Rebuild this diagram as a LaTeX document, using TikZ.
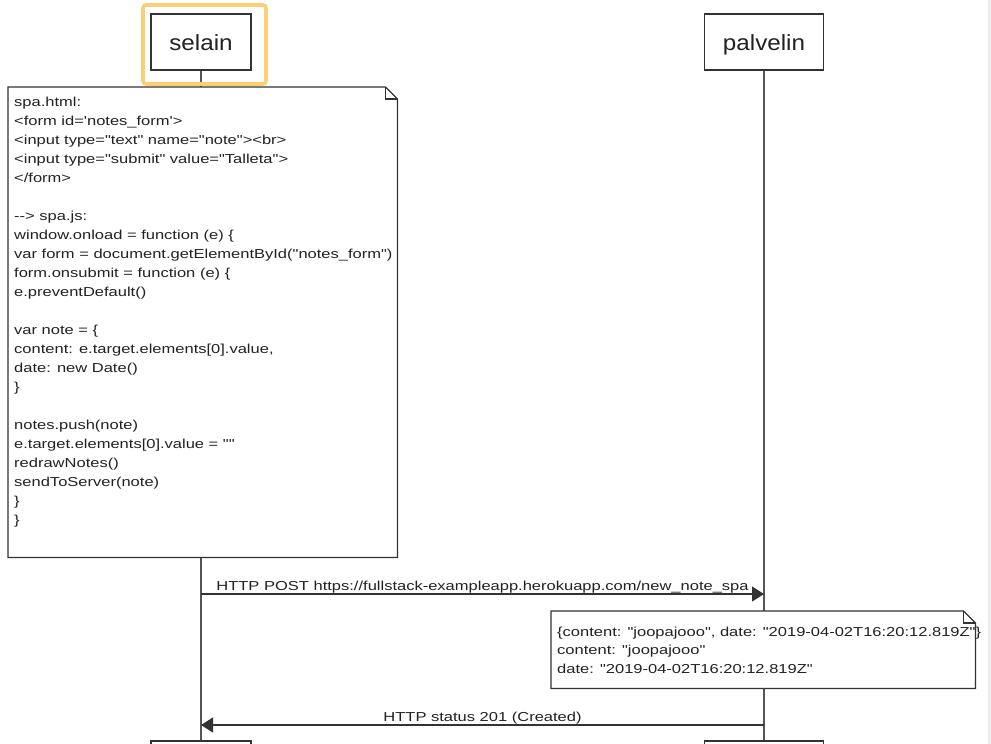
\documentclass[tikz,border=0pt]{standalone}
\usepackage{fontspec}
\setmainfont{Liberation Sans}[Ligatures=TeXOff]
\newfontfamily\msgfont{Liberation Sans}[Ligatures=TeXOff,FakeStretch=1.27]
\newfontfamily\headfont{Liberation Sans}[Ligatures=TeXOff,FakeStretch=1.1]
\usetikzlibrary{arrows.meta,calc}

\definecolor{ink}{HTML}{222222}
\definecolor{edge}{HTML}{333333}
\definecolor{life}{HTML}{555555}
\definecolor{focus}{HTML}{FDCF75}
\definecolor{rim}{HTML}{EDEDED}

\tikzset{
  actor/.style={draw=edge, line width=1.2pt, fill=white, minimum width=#1,
    minimum height=56pt, inner sep=0pt, text=ink, text height=22pt, text depth=5pt,
    font=\headfont\fontsize{22}{26}\selectfont},
  lifeline/.style={draw=life, line width=1.2pt},
  msg/.style={draw=edge, line width=1.2pt, -{Triangle[length=12pt,width=15pt]}},
  msglabel/.style={font=\msgfont\fontsize{13}{15}\selectfont, text=ink,
    anchor=base, inner sep=0pt},
  noteframe/.style={draw=none, inner sep=0pt, anchor=north west},
  notetext/.style={font=\msgfont\fontsize{13}{19}\selectfont, text=ink,
    align=left, anchor=north west, inner sep=0pt},
  fold/.style={draw=edge, line width=1.2pt, fill=white, line join=miter},
  highlight/.style={draw=focus, line width=3.6pt, rounded corners=3pt}
}

\begin{document}
\begin{tikzpicture}[x=1pt, y=-1pt]
  \useasboundingbox (0,0) rectangle (991,744);
  \clip (0,0) rectangle (991,744);
  \fill[white] (0,0) rectangle (991,744);
  \fill[rim] (988,0) rectangle (991,744);

  % participants, top and bottom
  \node[actor=100pt] (selain)   at (201,42)  {selain};
  \node[actor=119pt] (palvelin) at (764,42)  {palvelin};
  \node[actor=100pt] (selainEnd)   at (201,769) {};
  \node[actor=119pt] (palvelinEnd) at (764,769) {};

  % lifelines
  \draw[lifeline] (selain.south) -- (selainEnd.north);
  \draw[lifeline] (palvelin.south) -- (palvelinEnd.north);

  % note on the browser side
  \node[noteframe, minimum width=389pt, minimum height=470pt] (spa) at (8,87) {};
  \draw[fold] (spa.north west) -- ([xshift=-12pt]spa.north east)
    -- ([yshift=-12pt]spa.north east) -- (spa.south east)
    -- (spa.south west) -- cycle;
  \draw[fold, fill=none] ([xshift=-12pt]spa.north east) -- ++(0,12)
    -- ([yshift=-12pt]spa.north east);
  \node[notetext] (spacode) at (14,97) {%
    spa.html:\\
    <form id='notes\_form'>\\
    <input type="text" name="note"><br>\\
    <input type="submit" value="Talleta">\\
    </form>\\[19pt]
    -{}-> spa.js:\\
    window.onload = function (e) \{\\
    var form = document.getElementById("notes\_form")\\
    form.onsubmit = function (e) \{\\
    e.preventDefault()\\[19pt]
    var note = \{\\
    content: e.target.elements[0].value,\\
    date: new Date()\\
    \}\\[19pt]
    notes.push(note)\\
    e.target.elements[0].value = ""\\
    redrawNotes()\\
    sendToServer(note)\\
    \}\\
    \}};

  % request
  \coordinate (postFrom) at (selain.south |- 0,594);
  \coordinate (postTo)   at (palvelin.south |- 0,594);
  \draw[msg] (postFrom) -- (postTo)
    node[msglabel, midway, yshift=4pt]
    {HTTP POST https://fullstack-exampleapp.herokuapp.com/new\_note\_spa};

  % note on the server side
  \node[noteframe, minimum width=424pt, minimum height=77pt] (payload) at (551,611) {};
  \draw[fold] (payload.north west) -- ([xshift=-12pt]payload.north east)
    -- ([yshift=-12pt]payload.north east) -- (payload.south east)
    -- (payload.south west) -- cycle;
  \draw[fold, fill=none] ([xshift=-12pt]payload.north east) -- ++(0,12)
    -- ([yshift=-12pt]payload.north east);
  \node[notetext, font=\msgfont\fontsize{13}{18.6}\selectfont] (payloadtext) at (557,626.5) {%
    \{content: "joopajooo", date: "2019-04-02T16:20:12.819Z"\}\\
    content: "joopajooo"\\
    date: "2019-04-02T16:20:12.819Z"};

  % response
  \coordinate (respFrom) at (palvelin.south |- 0,725);
  \coordinate (respTo)   at (selain.south |- 0,725);
  \draw[msg] (respFrom) -- (respTo)
    node[msglabel, midway, yshift=4pt] {HTTP status 201 (Created)};

  % focus frame round the browser participant
  \draw[highlight] (143,5) rectangle (266,84);
\end{tikzpicture}
\end{document}
